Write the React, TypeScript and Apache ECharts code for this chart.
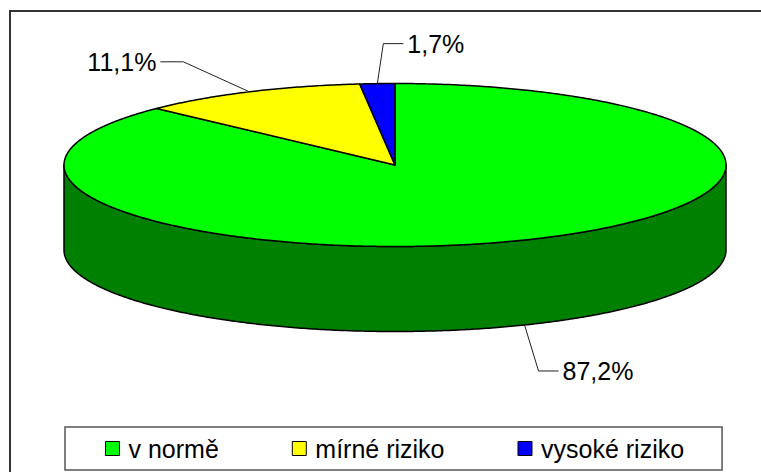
import React, { useEffect, useRef } from "react";
import * as echarts from "echarts";

const categories = ["v normě", "mírné riziko", "vysoké riziko"];
const values = [87.2, 11.1, 1.7];
const topColors = ["#00FF00", "#FFFF00", "#0000FF"];
const sideColors = ["#008000", "#808000", "#000080"];
// leader line layout per label: [elbow dx, elbow dy, horizontal run]
const leaderLayout = [
  [14, 46, 20],
  [-66, -30, -23],
  [6, -40, 20],
];

const GEOM = { cx: 395, cy: 165, rx: 331, ry: 81.5, depth: 85 };
const FONT = "Liberation Sans";

const total = values.reduce((a, b) => a + b, 0);
const starts: number[] = [];
values.reduce((acc, v, i) => {
  starts[i] = acc;
  return acc + v;
}, 0);

function pt(deg: number, dy = 0): number[] {
  const r = (deg * Math.PI) / 180;
  return [GEOM.cx + GEOM.rx * Math.sin(r), GEOM.cy - GEOM.ry * Math.cos(r) + dy];
}
function arc(a0: number, a1: number, dy = 0): number[][] {
  const pts: number[][] = [];
  const n = Math.max(2, Math.ceil((a1 - a0) / 0.5));
  for (let k = 0; k <= n; k++) pts.push(pt(a0 + ((a1 - a0) * k) / n, dy));
  return pts;
}
function fmt(v: number) {
  return v.toFixed(1).replace(".", ",") + "%";
}

export default function App() {
  const ref = useRef<HTMLDivElement>(null);
  useEffect(() => {
    if (!ref.current) return;
    const chart = echarts.init(ref.current, null, { renderer: "svg" });
    chart.setOption({
      animation: false,
      color: topColors,
      legend: {
        data: categories,
        left: 65,
        top: 427,
        orient: "horizontal",
        padding: [9, 38, 9, 40],
        itemGap: 73,
        itemWidth: 14,
        itemHeight: 14,
        icon: "rect",
        borderColor: "#555",
        borderWidth: 1.5,
        selectedMode: false,
        itemStyle: { borderColor: "#000", borderWidth: 1 },
        textStyle: { fontSize: 25, fontFamily: FONT, color: "#000", padding: [0, 0, 0, 4] },
      },
      graphic: [
        {
          type: "line",
          shape: { x1: 10, y1: 11, x2: 10, y2: 480 },
          style: { stroke: "#333", lineWidth: 2 },
          z: 0,
        },
        {
          type: "line",
          shape: { x1: 9, y1: 11, x2: 761, y2: 11 },
          style: { stroke: "#333", lineWidth: 2 },
          z: 0,
        },
      ],
      series: [
        {
          type: "pie",
          radius: [0, 0],
          center: [-50, -50],
          silent: true,
          label: { show: false },
          labelLine: { show: false },
          data: categories.map((c, i) => ({ name: c, value: values[i] })),
        },
        {
          type: "custom",
          name: "sides",
          coordinateSystem: "none",
          z: 1,
          silent: true,
          data: values,
          renderItem: (params: any, api: any) => {
            const i = params.dataIndex;
            const v = api.value(0);
            const a0 = (starts[i] / total) * 360;
            const a1 = a0 + (v / total) * 360;
            const s = Math.max(a0, 90);
            const e = Math.min(a1, 270);
            if (e <= s) return { type: "group", children: [] };
            const top = arc(s, e, 0);
            const bottom = arc(s, e, GEOM.depth).reverse();
            return {
              type: "polygon",
              shape: { points: [...top, ...bottom] },
              style: { fill: sideColors[i], stroke: "#000", lineWidth: 1.5, lineJoin: "round" },
            };
          },
        },
        {
          type: "custom",
          name: "tops",
          coordinateSystem: "none",
          z: 2,
          silent: true,
          data: values,
          renderItem: (params: any, api: any) => {
            const i = params.dataIndex;
            const v = api.value(0);
            const a0 = (starts[i] / total) * 360;
            const a1 = a0 + (v / total) * 360;
            const mid = (a0 + a1) / 2;
            const front = mid > 90 && mid < 270;
            const anchor = pt(mid, front ? GEOM.depth : 0);
            const [dx, dy, run] = leaderLayout[i];
            const elbow = [anchor[0] + dx, anchor[1] + dy];
            const end = [elbow[0] + run, elbow[1]];
            const right = run > 0;
            return {
              type: "group",
              children: [
                {
                  type: "polygon",
                  shape: { points: [[GEOM.cx, GEOM.cy], ...arc(a0, a1, 0)] },
                  style: { fill: topColors[i], stroke: "#000", lineWidth: 1.5, lineJoin: "round" },
                },
                {
                  type: "polyline",
                  shape: { points: [anchor, elbow, end] },
                  style: { fill: "none", stroke: "#222", lineWidth: 1 },
                },
                {
                  type: "text",
                  x: end[0] + (right ? 4 : -4),
                  y: end[1],
                  style: {
                    text: fmt(v),
                    fontSize: 25,
                    fontFamily: FONT,
                    fill: "#000",
                    align: right ? "left" : "right",
                    verticalAlign: "middle",
                  },
                },
              ],
            };
          },
        },
      ],
    });
    return () => chart.dispose();
  }, []);
  return (
    <div
      ref={ref}
      style={{ position: "fixed", left: 0, top: 0, width: 761, height: 472, background: "#fff" }}
    />
  );
}
